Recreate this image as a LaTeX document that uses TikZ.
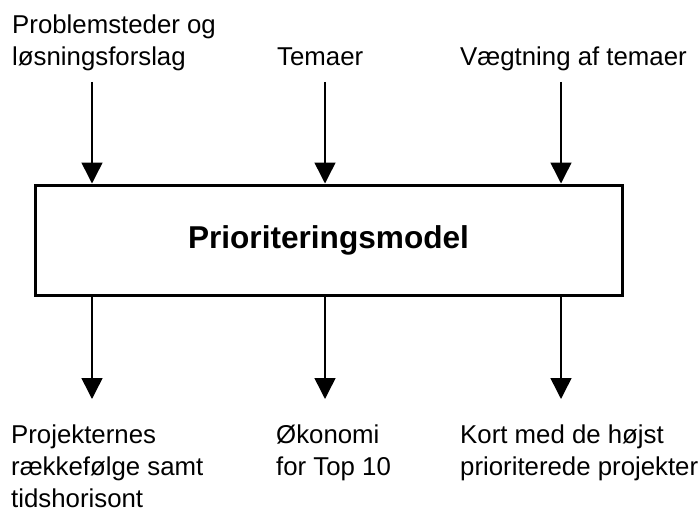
\documentclass[tikz,border=0pt]{standalone}
\usepackage{fontspec}
\setmainfont{Liberation Sans}
\usetikzlibrary{arrows.meta}
\begin{document}
\begin{tikzpicture}[x=1pt,y=-1pt,
  lbl/.style={anchor=base west,inner sep=0pt,align=left,font=\fontsize{25.8}{32}\selectfont},
  flow/.style={line width=1.5pt,-{Triangle[length=21pt,width=21pt]}},
  mainbox/.style={draw,line width=3pt,minimum width=587pt,minimum height=110pt,inner sep=0pt,font=\fontsize{31.6}{36}\bfseries\selectfont}]
\useasboundingbox (0,0) rectangle (699,511);
\node[mainbox] (box) at (328.5,240) {Prioriteringsmodel};
\node[lbl] (t1) at (12,66) {Problemsteder og\\løsningsforslag};
\node[lbl] (t2) at (277,66) {Temaer};
\node[lbl] (t3) at (460,66) {Vægtning af temaer};
\node[lbl] (b1) at (11,507) {Projekternes\\rækkefølge samt\\tidshorisont};
\node[lbl] (b2) at (276,475) {Økonomi\\for Top 10};
\node[lbl] (b3) at (460,475) {Kort med de højst\\prioriterede projekter};
\coordinate (s1) at (92,82);
\coordinate (s2) at (325,82);
\coordinate (s3) at (561,82);
\coordinate (e1) at (92,399);
\coordinate (e2) at (325,399);
\coordinate (e3) at (561,399);
\draw[flow] (s1) -- (s1 |- box.north);
\draw[flow] (s2) -- (s2 |- box.north);
\draw[flow] (s3) -- (s3 |- box.north);
\draw[flow] (box.south -| e1) -- (e1);
\draw[flow] (box.south -| e2) -- (e2);
\draw[flow] (box.south -| e3) -- (e3);
\end{tikzpicture}
\end{document}
